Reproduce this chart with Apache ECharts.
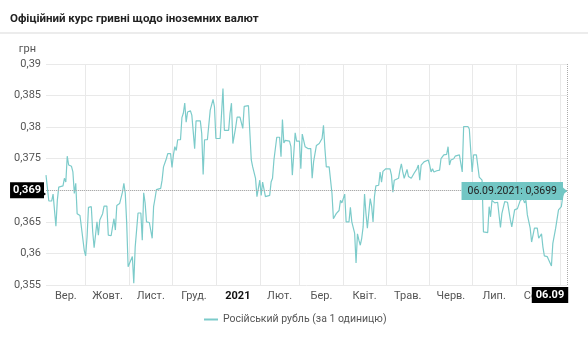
<!DOCTYPE html>
<html><head><meta charset="utf-8">
<script src="https://cdn.jsdelivr.net/npm/echarts@6/dist/echarts.min.js"></script>
<style>html,body{margin:0;padding:0;background:#fff}#c{width:588px;height:350px}</style>
</head><body><div id="c"></div>
<script>
const titleText = 'Офіційний курс гривні щодо іноземних валют';
const seriesName = 'Російський рубль (за 1 одиницю)';
const unitName = 'грн';
const axisStart = '2020-09-03';
const axisEnd = '2021-09-06';
const yMin = 0.355, yMax = 0.39, yStep = 0.005;
const pointerValue = 0.3694;
const monthStarts = ['2020-09-01','2020-10-01','2020-11-01','2020-12-01','2021-01-01','2021-02-01','2021-03-01','2021-04-01','2021-05-01','2021-06-01','2021-07-01','2021-08-01','2021-09-01'];
const monthLabels = ['Вер.','Жовт.','Лист.','Груд.','2021','Лют.','Бер.','Квіт.','Трав.','Черв.','Лип.','Серп.'];
const dates = [
'2020-09-03','2020-09-05','2020-09-07','2020-09-08','2020-09-10','2020-09-11','2020-09-12','2020-09-15','2020-09-16','2020-09-17','2020-09-18','2020-09-19','2020-09-21','2020-09-22','2020-09-23','2020-09-24','2020-09-25','2020-09-27','2020-09-28','2020-09-30',
'2020-10-01','2020-10-02','2020-10-03','2020-10-05','2020-10-06','2020-10-07','2020-10-08','2020-10-09','2020-10-10','2020-10-11','2020-10-12','2020-10-13','2020-10-14','2020-10-16','2020-10-17','2020-10-19','2020-10-20','2020-10-21','2020-10-22','2020-10-23','2020-10-25','2020-10-26','2020-10-27','2020-10-28','2020-10-29','2020-10-30','2020-10-31',
'2020-11-01','2020-11-03','2020-11-04','2020-11-05','2020-11-07','2020-11-09','2020-11-10','2020-11-11','2020-11-12','2020-11-13','2020-11-15','2020-11-17','2020-11-18','2020-11-19','2020-11-20','2020-11-23','2020-11-24','2020-11-25','2020-11-26','2020-11-27','2020-11-28','2020-11-30',
'2020-12-01','2020-12-02','2020-12-03','2020-12-04','2020-12-05','2020-12-07','2020-12-08','2020-12-09','2020-12-10','2020-12-11','2020-12-12','2020-12-14','2020-12-15','2020-12-17','2020-12-18','2020-12-21','2020-12-22','2020-12-23','2020-12-24','2020-12-26','2020-12-27','2020-12-28','2020-12-30','2020-12-31',
'2021-01-01','2021-01-04','2021-01-06','2021-01-07','2021-01-10','2021-01-11','2021-01-12','2021-01-13','2021-01-15','2021-01-16','2021-01-18','2021-01-20','2021-01-21','2021-01-24','2021-01-26','2021-01-27','2021-01-28','2021-01-29','2021-01-30','2021-01-31',
'2021-02-01','2021-02-02','2021-02-03','2021-02-05','2021-02-06','2021-02-08','2021-02-09','2021-02-10','2021-02-11','2021-02-13','2021-02-15','2021-02-16','2021-02-17','2021-02-18','2021-02-19','2021-02-22','2021-02-23','2021-02-24','2021-02-26','2021-02-27',
'2021-03-01','2021-03-02','2021-03-03','2021-03-05','2021-03-07','2021-03-09','2021-03-10','2021-03-11','2021-03-12','2021-03-13','2021-03-15','2021-03-17','2021-03-18','2021-03-19','2021-03-20','2021-03-22','2021-03-23','2021-03-24','2021-03-25','2021-03-27','2021-03-29','2021-03-30','2021-03-31',
'2021-04-02','2021-04-03','2021-04-05','2021-04-06','2021-04-07','2021-04-09','2021-04-10','2021-04-11','2021-04-12','2021-04-13','2021-04-14','2021-04-15','2021-04-16','2021-04-17','2021-04-18','2021-04-19','2021-04-20','2021-04-21','2021-04-22','2021-04-23','2021-04-24','2021-04-26','2021-04-27','2021-04-28','2021-04-29',
'2021-05-01','2021-05-04','2021-05-05','2021-05-06','2021-05-07','2021-05-08','2021-05-10','2021-05-11','2021-05-12','2021-05-13','2021-05-14','2021-05-15','2021-05-16','2021-05-17','2021-05-19','2021-05-20','2021-05-21','2021-05-22','2021-05-23','2021-05-24','2021-05-25','2021-05-26','2021-05-28','2021-05-29','2021-05-31',
'2021-06-01','2021-06-02','2021-06-03','2021-06-04','2021-06-06','2021-06-08','2021-06-09','2021-06-11','2021-06-13','2021-06-14','2021-06-15','2021-06-16','2021-06-18','2021-06-19','2021-06-22','2021-06-24','2021-06-25','2021-06-28','2021-06-29',
'2021-07-01','2021-07-02','2021-07-04','2021-07-06','2021-07-07','2021-07-08','2021-07-09','2021-07-12','2021-07-13','2021-07-14','2021-07-15','2021-07-17','2021-07-19','2021-07-21','2021-07-22','2021-07-24','2021-07-26','2021-07-28','2021-07-29','2021-07-30','2021-07-31',
'2021-08-02','2021-08-04','2021-08-06','2021-08-07','2021-08-08','2021-08-09','2021-08-11','2021-08-12','2021-08-14','2021-08-16','2021-08-17','2021-08-19','2021-08-20','2021-08-21','2021-08-23','2021-08-24','2021-08-26','2021-08-27','2021-08-28','2021-08-29','2021-08-30','2021-08-31',
'2021-09-02','2021-09-03','2021-09-04','2021-09-06'
];
const values = [
0.3724,0.3683,0.3683,0.3694,0.3643,0.3684,0.3705,0.3707,0.3719,0.3713,0.3754,0.3740,0.3738,0.3729,0.3695,0.3711,0.3663,0.3660,0.3659,0.3605,
0.3596,0.3626,0.3673,0.3674,0.3634,0.3609,0.3608,0.3650,0.3629,0.3653,0.3655,0.3663,0.3675,0.3675,0.3629,0.3628,0.3642,0.3655,0.3637,0.3676,0.3679,0.3679,0.3697,0.3711,0.3695,0.3648,0.3579,
0.3576,0.3595,0.3553,0.3610,0.3664,0.3664,0.3621,0.3696,0.3680,0.3650,0.3649,0.3624,0.3674,0.3687,0.3701,0.3703,0.3716,0.3737,0.3736,0.3750,0.3758,0.3758,
0.3736,0.3756,0.3769,0.3763,0.3780,0.3780,0.3815,0.3822,0.3838,0.3808,0.3824,0.3826,0.3819,0.3766,0.3810,0.3810,0.3790,0.3725,0.3780,0.3780,0.3781,0.3827,0.3844,0.3832,
0.3782,0.3782,0.3861,0.3795,0.3795,0.3822,0.3838,0.3774,0.3800,0.3816,0.3816,0.3798,0.3833,0.3834,0.3748,0.3737,0.3740,0.3719,0.3690,0.3689,
0.3716,0.3692,0.3713,0.3690,0.3690,0.3692,0.3713,0.3719,0.3748,0.3784,0.3784,0.3753,0.3812,0.3775,0.3779,0.3778,0.3769,0.3724,0.3791,0.3778,
0.3778,0.3734,0.3789,0.3769,0.3766,0.3766,0.3719,0.3745,0.3745,0.3771,0.3774,0.3782,0.3803,0.3766,0.3737,0.3737,0.3735,0.3695,0.3655,0.3663,0.3668,0.3684,0.3680,
0.3694,0.3650,0.3650,0.3673,0.3650,0.3632,0.3585,0.3631,0.3621,0.3613,0.3624,0.3642,0.3694,0.3663,0.3640,0.3640,0.3687,0.3675,0.3650,0.3690,0.3707,0.3708,0.3729,0.3713,0.3730,
0.3734,0.3734,0.3724,0.3697,0.3716,0.3719,0.3719,0.3732,0.3742,0.3729,0.3719,0.3719,0.3733,0.3722,0.3719,0.3719,0.3727,0.3726,0.3734,0.3740,0.3716,0.3740,0.3745,0.3748,0.3748,
0.3740,0.3729,0.3734,0.3729,0.3731,0.3732,0.3750,0.3756,0.3757,0.3769,0.3740,0.3748,0.3750,0.3754,0.3756,0.3729,0.3801,0.3801,0.3797,
0.3729,0.3756,0.3756,0.3721,0.3719,0.3716,0.3634,0.3633,0.3674,0.3658,0.3684,0.3680,0.3681,0.3641,0.3663,0.3682,0.3681,0.3653,0.3642,0.3645,0.3669,
0.3671,0.3684,0.3687,0.3680,0.3684,0.3661,0.3640,0.3618,0.3640,0.3640,0.3624,0.3631,0.3610,0.3596,0.3595,0.3595,0.3580,0.3616,0.3618,0.3640,0.3640,0.3669,
0.3674,0.3690,0.3697,0.3699
];

function ts(s){ const p = s.split('-').map(Number); return new Date(p[0], p[1]-1, p[2]).getTime(); }
const xMin = ts(axisStart), xMax = ts(axisEnd);
const startsTs = monthStarts.map(ts);
const labelPos = monthLabels.map((l, i) => (Math.max(startsTs[i], xMin) + Math.min(startsTs[i+1], xMax)) / 2);
function monthLabelOf(v){
  for (let i = 0; i < monthLabels.length; i++) {
    if (v >= startsTs[i] && v < startsTs[i+1]) return /^\d+$/.test(monthLabels[i]) ? '{y|' + monthLabels[i] + '}' : monthLabels[i];
  }
  return '';
}
const comma = v => String(v).replace('.', ',');
const lastDate = dates[dates.length-1];
const lastVal = values[values.length-1];
const ld = lastDate.split('-');
const lineColor = '#7ccbca';
const font = 'Roboto';

const chart = echarts.init(document.getElementById('c'), null, {renderer:'canvas'});
chart.setOption({
  animation: false,
  textStyle: {fontFamily: font},
  title: {text: titleText, left: 5, top: 8, textStyle: {fontSize: 11.5, fontWeight: 'bold', color: '#222', fontFamily: font}},
  graphic: [{type: 'rect', shape: {x: 0, y: 32, width: 588, height: 2}, style: {fill: '#ececec'}, silent: true}],
  legend: {show: true, left: 199, top: 309, icon: 'rect', itemWidth: 14, itemHeight: 2, itemGap: 6,
    textStyle: {fontSize: 10.5, color: '#555', fontFamily: font}, data: [seriesName]},
  grid: {left: 46, right: 21, top: 64, bottom: 65, containLabel: false},
  xAxis: {
    type: 'value', min: xMin, max: xMax,
    axisLine: {show: false},
    axisTick: {show: false, customValues: startsTs},
    splitLine: {show: true, lineStyle: {color: '#e9e9e9', width: 1}},
    axisLabel: {customValues: labelPos, formatter: v => monthLabelOf(v), color: '#555', fontSize: 11, margin: 6,
      hideOverlap: false, showMinLabel: true, showMaxLabel: true, fontFamily: font,
      rich: {y: {fontWeight: 'bold', color: '#111', fontSize: 11, fontFamily: font}}}
  },
  yAxis: {
    type: 'value', min: yMin, max: yMax, interval: yStep,
    name: unitName, nameLocation: 'end', nameGap: 9,
    nameTextStyle: {align: 'right', padding: [0, 10, 0, 0], color: '#555', fontSize: 11, fontFamily: font},
    axisLine: {show: false}, axisTick: {show: false},
    splitLine: {lineStyle: {color: '#e9e9e9', width: 1}},
    axisLabel: {formatter: v => comma(Number(v.toFixed(3))), color: '#555', fontSize: 11, margin: 5, fontFamily: font}
  },
  series: [{
    type: 'line', name: seriesName,
    data: dates.map((d, i) => [ts(d), values[i]]),
    showSymbol: false, symbol: 'none',
    lineStyle: {color: lineColor, width: 1.2}, itemStyle: {color: lineColor},
    markLine: {
      silent: true, symbol: ['none', 'none'], animation: false,
      lineStyle: {type: 'dotted', color: '#aaa', width: 1},
      data: [
        {xAxis: ts(lastDate), label: {show: true, position: 'start', distance: 2,
          formatter: '{b|' + ld[2] + '.' + ld[1] + '}{s| }',
          rich: {b: {backgroundColor: '#000', color: '#fff', fontWeight: 'bold', fontSize: 11, padding: [3, 4, 2, 4], fontFamily: font},
                 s: {width: 34, fontSize: 11}}}},
        {yAxis: pointerValue, label: {show: true, position: 'start', distance: 2,
          formatter: comma((Math.floor(pointerValue * 1000) / 1000).toFixed(3)),
          backgroundColor: '#000', color: '#fff', fontWeight: 'bold', fontSize: 11, padding: [3, 3, 2, 3], fontFamily: font}}
      ]
    },
    markPoint: {
      silent: true, animation: false,
      data: [
        {coord: [ts(lastDate), lastVal], symbol: 'triangle', symbolSize: [7, 4], symbolRotate: -90, symbolOffset: [-2, 0],
          itemStyle: {color: '#72c6c4'},
          label: {show: true, position: 'left', distance: 0,
            formatter: ld[2] + '.' + ld[1] + '.' + ld[0] + ': ' + comma(lastVal),
            backgroundColor: '#72c6c4', color: '#222', fontSize: 10.5, padding: [4, 6, 3, 6], fontFamily: font}},
        {coord: [xMin, pointerValue], symbol: 'triangle', symbolSize: [6, 4], symbolRotate: -90, symbolOffset: [-2, 0],
          itemStyle: {color: '#000'}, label: {show: false}}
      ]
    }
  }]
});
</script></body></html>
